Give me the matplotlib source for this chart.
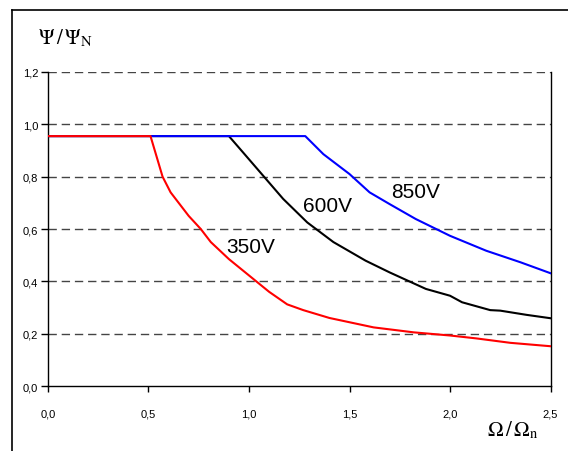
import matplotlib.pyplot as plt
from matplotlib.lines import Line2D

plt.rcParams['font.family'] = ['Liberation Sans', 'DejaVu Sans']
plt.rcParams['mathtext.fontset'] = 'stix'

# Kurven (Omega/Omega_n -> Psi/Psi_N)
x_350 = [0.0, 0.51, 0.57, 0.61, 0.70, 0.76, 0.81, 0.90, 1.02, 1.10, 1.19, 1.27,
         1.40, 1.62, 1.82, 2.00, 2.13, 2.30, 2.50]
y_350 = [0.955, 0.955, 0.80, 0.74, 0.65, 0.60, 0.55, 0.485, 0.41, 0.36, 0.312,
         0.29, 0.26, 0.224, 0.205, 0.193, 0.182, 0.165, 0.152]

x_600 = [0.0, 0.90, 0.97, 1.07, 1.17, 1.29, 1.42, 1.58, 1.70, 1.88, 2.00, 2.06,
         2.20, 2.25, 2.38, 2.50]
y_600 = [0.955, 0.955, 0.893, 0.804, 0.715, 0.625, 0.55, 0.479, 0.434, 0.371,
         0.345, 0.320, 0.290, 0.288, 0.272, 0.259]

x_850 = [0.0, 1.28, 1.37, 1.50, 1.60, 1.70, 1.83, 2.00, 2.18, 2.35, 2.50]
y_850 = [0.955, 0.955, 0.886, 0.81, 0.74, 0.695, 0.638, 0.574, 0.517, 0.473, 0.431]

x_ticks = [0.0, 0.5, 1.0, 1.5, 2.0, 2.5]
y_ticks = [0.0, 0.2, 0.4, 0.6, 0.8, 1.0, 1.2]

fig = plt.figure(figsize=(5.68, 4.52), dpi=100)
ax = fig.add_axes([0.0845, 0.1438, 0.8847, 0.6947])

# Gitter
for v in y_ticks[1:]:
    ax.axhline(v, color='#444444', lw=1.0, linestyle=(0, (6, 3.5)), zorder=1)

ax.plot(x_600, y_600, color='black', lw=1.5, zorder=3)
ax.plot(x_850, y_850, color='#0000ff', lw=1.5, zorder=4)
ax.plot(x_350, y_350, color='#ff0000', lw=1.5, zorder=5)

ax.text(1.01, 0.535, '350V', fontsize=15, ha='center', va='center')
ax.text(1.39, 0.69, '600V', fontsize=15, ha='center', va='center')
ax.text(1.83, 0.745, '850V', fontsize=15, ha='center', va='center')

ax.set_xlim(0, 2.5)
ax.set_ylim(0, 1.2)
ax.set_xticks(x_ticks)
ax.set_yticks(y_ticks)
ax.set_xticklabels([f'{t:.1f}'.replace('.', ',') for t in x_ticks])
ax.set_yticklabels([f'{t:.1f}'.replace('.', ',') for t in y_ticks])
ax.tick_params(axis='x', length=4, width=1, pad=12, labelsize=8)
ax.tick_params(axis='y', length=5, width=1, pad=2, labelsize=8)
ax.spines['top'].set_visible(False)
for s in ['left', 'bottom', 'right']:
    ax.spines[s].set_linewidth(1.0)

fig.text(38 / 568, 1 - 38 / 452, r'$\Psi\,/\,\Psi_{\mathrm{N}}$', fontsize=15,
         ha='left', va='center')
fig.text(487 / 568, 1 - 430 / 452, r'$\Omega\,/\,\Omega_{\mathrm{n}}$', fontsize=15,
         ha='left', va='center')

# Rahmen oben und links
fig.add_artist(Line2D([12 / 568, 12 / 568], [0, 1 - 11 / 452], color='black', lw=1.2))
fig.add_artist(Line2D([12 / 568, 1], [1 - 11 / 452, 1 - 11 / 452], color='black', lw=1.2))

fig.savefig('out.png', dpi=100)
